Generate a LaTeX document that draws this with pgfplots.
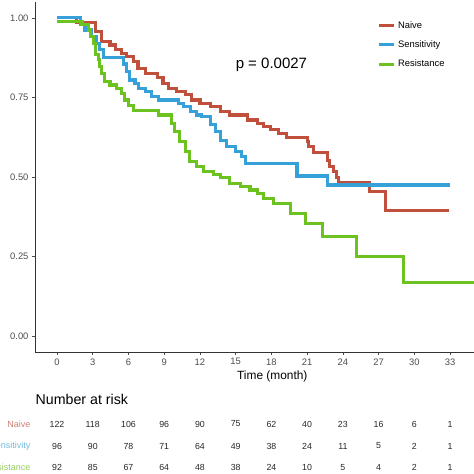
\documentclass[border=0pt]{standalone}
\usepackage{fontspec}
\setmainfont{Liberation Sans}
\usepackage{pgfplots}
\pgfplotsset{compat=1.18}
\definecolor{cnaive}{HTML}{C0503C}
\definecolor{csens}{HTML}{36A0D8}
\definecolor{cres}{HTML}{6CC21E}
\definecolor{lnaive}{HTML}{CC8078}
\definecolor{lsens}{HTML}{72B8DC}
\definecolor{lres}{HTML}{94CC5C}
\definecolor{tickgray}{HTML}{4D4D4D}
\begin{document}
\begin{tikzpicture}[x=1pt,y=1pt]
\useasboundingbox (0,0) rectangle (474,474);
\begin{axis}[
  at={(35pt,122pt)}, anchor=south west,
  width=474.6pt, height=350pt, scale only axis,
  xmin=-1.85, xmax=38, ymin=-0.05, ymax=1.05,
  axis lines*=left,
  axis line style={line width=0.8pt, color=black!80},
  xtick={0,3,...,33},
  ytick={0,0.25,0.5,0.75,1},
  yticklabel style={/pgf/number format/.cd, fixed, fixed zerofill, precision=2},
  /pgf/number format/assume math mode=true,
  tick style={color=black!70, line width=0.6pt},
  major tick length=3pt, tick align=outside,
  ticklabel style={font=\fontsize{9.4}{11}\selectfont, text=tickgray},
  xlabel={Time (month)},
  xlabel style={font=\fontsize{11.9}{13}\selectfont, yshift=1.5pt},
  legend style={at={(0.722,0.951)}, anchor=north west, draw=none, fill=none,
    font=\fontsize{9.4}{11}\selectfont, row sep=7pt, inner sep=0pt},
  legend cell align=left,
  legend image code/.code={\draw[#1, line width=3.2pt] (0pt,0pt) -- (15pt,0pt);},
  clip=true,
]
\addplot[const plot, color=cnaive, line width=3.1pt] coordinates {
(0,1) (1.6,0.986) (3.2,0.957) (3.75,0.925) (4.45,0.915) (4.9,0.90) (5.4,0.889)
(5.85,0.878) (6.4,0.863) (6.8,0.842) (7.4,0.826) (8.4,0.813) (8.9,0.795)
(9.35,0.779) (10.05,0.768) (10.75,0.758) (11.3,0.742) (12.0,0.732) (12.85,0.721)
(13.7,0.705) (14.5,0.695) (16.0,0.679) (16.8,0.667) (17.35,0.658) (17.9,0.648)
(18.6,0.637) (19.3,0.624) (21.0,0.611) (21.1,0.597) (21.55,0.577) (22.7,0.553)
(22.85,0.532) (23.2,0.517) (23.5,0.499) (23.65,0.482) (26.2,0.454) (27.55,0.396)
(32.9,0.396)};
\addlegendentry{Naive}
\addplot[const plot, color=csens, line width=3.1pt] coordinates {
(0,1) (1.95,0.978) (2.35,0.962) (2.9,0.941) (3.35,0.92) (3.6,0.90) (3.9,0.876)
(5.55,0.855) (5.85,0.831) (6.1,0.805) (6.55,0.795) (6.85,0.779) (7.4,0.768)
(7.95,0.753) (8.5,0.742) (10.2,0.732) (10.6,0.721) (11.2,0.705) (11.7,0.695)
(12.15,0.69) (12.85,0.664) (13.3,0.643) (13.7,0.616) (14.25,0.595) (14.95,0.58)
(15.5,0.564) (15.8,0.543) (20.15,0.503) (22.7,0.475) (33.0,0.475)};
\addlegendentry{Sensitivity}
\addplot[const plot, color=cres, line width=3.1pt] coordinates {
(0,0.99) (2.1,0.978) (2.65,0.962) (2.8,0.941) (3.05,0.92) (3.2,0.884) (3.45,0.868)
(3.6,0.847) (3.75,0.826) (4.0,0.80) (4.45,0.789) (5.0,0.779) (5.45,0.763)
(5.7,0.742) (6.0,0.726) (6.4,0.709) (8.5,0.695) (9.6,0.669) (9.9,0.643)
(10.3,0.611) (10.75,0.58) (11.15,0.548) (11.7,0.532) (12.3,0.517) (13.1,0.509)
(13.7,0.499) (14.5,0.48) (15.4,0.47) (16.2,0.459) (16.8,0.447) (17.35,0.433)
(18.2,0.417) (19.6,0.386) (20.85,0.354) (22.3,0.312) (25.15,0.25) (29.1,0.168)
(36.5,0.168)};
\addlegendentry{Resistance}
\node[font=\fontsize{15}{17}\selectfont] at (axis cs:18,0.852) {p = 0.0027};
\end{axis}
\node[anchor=west, font=\fontsize{14.2}{16}\selectfont, inner sep=0pt] at (35.5,75) {Number at risk};
\begin{axis}[
  at={(35pt,0pt)}, anchor=south west,
  width=474.6pt, height=60pt, scale only axis,
  xmin=-1.85, xmax=38, ymin=0, ymax=60,
  axis line style={draw=none},
  xtick=\empty,
  ytick={6.3,28,50},
  yticklabels={\textcolor{lres}{Resistance},\textcolor{lsens}{Sensitivity},\textcolor{lnaive}{Naive}},
  major tick length=0pt,
  yticklabel style={font=\fontsize{9}{10}\selectfont, anchor=east, xshift=-1pt},
  nodes near coords,
  point meta=explicit symbolic,
  every node near coord/.append style={anchor=center, font=\fontsize{8.8}{10}\selectfont, text=black!85},
  clip=false,
]
\addplot[draw=none, only marks, mark=text, text mark={}] table[meta=n] {
x y n
0 50 122
3 50 118
6 50 106
9 50 96
12 50 90
15 50 75
18 50 62
21 50 40
24 50 23
27 50 16
30 50 6
33 50 1
};
\addplot[draw=none, only marks, mark=text, text mark={}] table[meta=n] {
x y n
0 28 96
3 28 90
6 28 78
9 28 71
12 28 64
15 28 49
18 28 38
21 28 24
24 28 11
27 28 5
30 28 2
33 28 1
};
\addplot[draw=none, only marks, mark=text, text mark={}] table[meta=n] {
x y n
0 6.3 92
3 6.3 85
6 6.3 67
9 6.3 64
12 6.3 48
15 6.3 38
18 6.3 24
21 6.3 10
24 6.3 5
27 6.3 4
30 6.3 2
33 6.3 1
};
\end{axis}
\end{tikzpicture}
\end{document}
